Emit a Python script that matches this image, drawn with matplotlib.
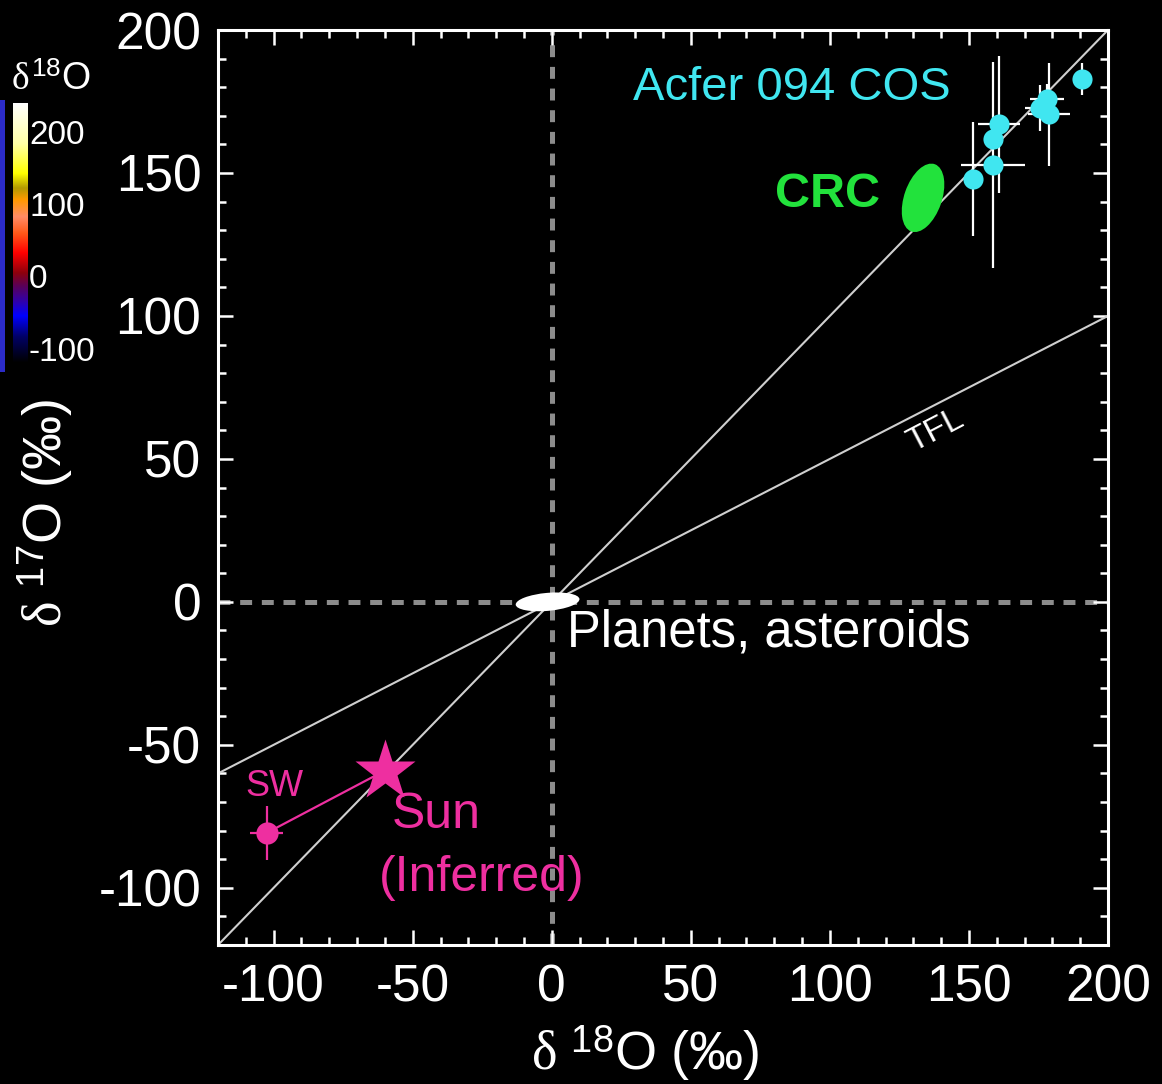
import matplotlib
matplotlib.use("Agg")
import matplotlib.pyplot as plt
import numpy as np
from matplotlib.patches import Ellipse, Rectangle
from matplotlib.colors import LinearSegmentedColormap

plt.rcParams["font.family"] = ["Liberation Sans", "DejaVu Sans"]
plt.rcParams["mathtext.fontset"] = "custom"
plt.rcParams["mathtext.rm"] = "Liberation Sans"
plt.rcParams["mathtext.it"] = "Liberation Serif"
plt.rcParams["mathtext.bf"] = "Liberation Sans:bold"
plt.rcParams["lines.scale_dashes"] = False
plt.rcParams["axes.unicode_minus"] = False

# ---- data ----
# Acfer 094 cosmic symplectite (COS) analyses: d18O, d17O and 1-sigma errors
cos_d18 = [190.6, 178.0, 175.5, 178.8, 160.8, 158.6, 158.6, 151.4]
cos_d17 = [182.9, 176.0, 172.7, 170.6, 167.0, 162.0, 152.8, 148.0]
cos_d18_err = [3.0, 6.0, 5.4, 7.5, 7.7, 2.0, 11.5, 2.0]
cos_d17_err = [5.5, 5.0, 8.0, 18.0, 24.0, 3.0, 36.0, 20.0]

# solar wind measurement and inferred solar composition
sw_d18, sw_d17 = -102.5, -80.8
sw_d18_err, sw_d17_err = 6.0, 9.5
sun_d18, sun_d17 = -60.0, -59.0

# reference fields: (center d18O, center d17O, width, height, angle)
planets_field = (-1.5, 0.0, 23.0, 6.3, 5.0)
crc_field = (133.5, 141.3, 13.5, 25.0, -20.0)

# mixing line (slope 1) and terrestrial fractionation line (slope 0.5)
ccam_slope = 1.0
tfl_slope = 0.5

xlim = (-120, 200)
ylim = (-120, 200)
major_ticks = [-100, -50, 0, 50, 100, 150, 200]

# colour scale shown next to the plot
cbar_range = (-115, 245)
cbar_ticks = [200, 100, 0, -100]

CYAN = "#40E6F0"
GREEN = "#22E23C"
MAGENTA = "#EE2FA0"
W, H = 1162, 1084

fig = plt.figure(figsize=(W / 100, H / 100), dpi=100, facecolor="black")
ax = fig.add_axes([218 / W, 1 - 945 / H, 890 / W, 915 / H], facecolor="black")
ax.set_xlim(*xlim)
ax.set_ylim(*ylim)

# zero reference lines
ax.axvline(0, color="#8c8c8c", lw=3.6, dashes=(8.6, 7.0), zorder=1)
ax.axhline(0, color="#8c8c8c", lw=3.6, dashes=(8.6, 7.0), zorder=1)

xs = np.array(xlim, dtype=float)
ax.plot(xs, ccam_slope * xs, color="#cfcfcf", lw=1.5, zorder=2)
ax.plot(xs, tfl_slope * xs, color="#cfcfcf", lw=1.5, zorder=2)

# reference fields
cx, cy, w, h, a = planets_field
ax.add_patch(Ellipse((cx, cy), w, h, angle=a, facecolor="white", edgecolor="none", zorder=3))
cx, cy, w, h, a = crc_field
ax.add_patch(Ellipse((cx, cy), w, h, angle=a, facecolor=GREEN, edgecolor="none", zorder=3))

# Acfer 094 COS
ax.errorbar(cos_d18, cos_d17, xerr=cos_d18_err, yerr=cos_d17_err, fmt="none",
            ecolor="white", elinewidth=1.6, capsize=0, zorder=4)
ax.plot(cos_d18, cos_d17, "o", color=CYAN, ms=14.5, mec="none", zorder=5)

# Solar wind and inferred Sun
ax.plot([sw_d18, sun_d18], [sw_d17, sun_d17], color=MAGENTA, lw=1.6, zorder=4)
ax.errorbar([sw_d18], [sw_d17], xerr=[sw_d18_err], yerr=[sw_d17_err], fmt="o",
            color=MAGENTA, ms=16, mec="none", elinewidth=1.6, capsize=0, zorder=5)
ax.plot([sun_d18], [sun_d17], "*", color=MAGENTA, ms=46, mec="none", zorder=5)

# annotations
ax.text(86.3, 179.7, "Acfer 094 COS", color=CYAN, fontsize=34, ha="center", va="center")
ax.text(99.3, 142.3, "CRC", color=GREEN, fontsize=35, fontweight="bold", ha="center", va="center")
ax.text(5.4, -11.0, "Planets, asteroids", color="white", fontsize=36.5, ha="left", va="center")
ax.text(-99.6, -64.7, "SW", color=MAGENTA, fontsize=26, ha="center", va="center")
ax.text(-57.4, -74.5, "Sun", color=MAGENTA, fontsize=36, ha="left", va="center")
ax.text(-62.2, -96.4, "(Inferred)", color=MAGENTA, fontsize=36, ha="left", va="center")
ax.text(138.0, 60.0, "TFL", color="white", fontsize=24, ha="center", va="center",
        rotation=27.5, rotation_mode="anchor")

# axes styling
for sp in ax.spines.values():
    sp.set_color("white")
    sp.set_linewidth(2.2)
ax.set_xticks(major_ticks)
ax.set_yticks(major_ticks)
ax.set_xticks(np.arange(-120, 201, 10), minor=True)
ax.set_yticks(np.arange(-120, 201, 10), minor=True)
ax.tick_params(which="both", direction="in", top=True, right=True, color="white",
               width=1.8, labelcolor="white", labelsize=37)
ax.tick_params(which="major", length=11)
ax.tick_params(which="minor", length=6)
ax.tick_params(axis="x", pad=13)
ax.tick_params(axis="y", pad=12)

ax.set_xlabel(r"$\delta\ ^{18}\mathrm{O\ (‰)}$", color="white", fontsize=39)
ax.set_ylabel(r"$\delta\ ^{17}\mathrm{O\ (‰)}$", color="white", fontsize=39)
ax.xaxis.set_label_coords(0.48, -0.118)
ax.yaxis.set_label_coords(-0.194, 0.472)
ax.xaxis.label.set_va("center")
ax.yaxis.label.set_va("center")

# colour scale
cmap = LinearSegmentedColormap.from_list("d18o", [
    (0.00, (0.0, 0.0, 0.0)),
    (0.10, (0.0, 0.0, 0.40)),
    (0.18, (0.0, 0.0, 1.0)),
    (0.24, (0.2, 0.0, 0.65)),
    (0.295, (0.35, 0.0, 0.35)),
    (0.346, (0.55, 0.0, 0.05)),
    (0.423, (1.0, 0.0, 0.0)),
    (0.50, (1.0, 0.35, 0.1)),
    (0.564, (1.0, 0.55, 0.4)),
    (0.628, (1.0, 0.6, 0.0)),
    (0.673, (0.7, 0.6, 0.0)),
    (0.73, (1.0, 1.0, 0.0)),
    (0.846, (1.0, 1.0, 0.65)),
    (1.00, (1.0, 1.0, 1.0)),
])
cax = fig.add_axes([13 / W, 1 - 363 / H, 15 / W, 260 / H])
grad = np.linspace(cbar_range[0], cbar_range[1], 256).reshape(-1, 1)
cax.imshow(grad, cmap=cmap, aspect="auto", origin="lower",
           extent=[0, 1, cbar_range[0], cbar_range[1]])
cax.set_axis_off()

def cbar_y(v):
    frac = (v - cbar_range[0]) / (cbar_range[1] - cbar_range[0])
    return (1 - 363 / H) + frac * 260 / H

for t in cbar_ticks:
    fig.text(29 / W, cbar_y(t), str(t), color="white", fontsize=24, ha="left", va="center")
fig.text(11 / W, 1 - 80 / H, r"$\delta^{18}\mathrm{O}$", color="white", fontsize=27,
         ha="left", va="center")

# edge of the neighbouring map panel
fig.patches.append(Rectangle((0, 1 - 372 / H), 5 / W, 272 / H, transform=fig.transFigure,
                             facecolor="#2b2bc8", edgecolor="none"))

fig.savefig("out.png", dpi=100, facecolor="black")
